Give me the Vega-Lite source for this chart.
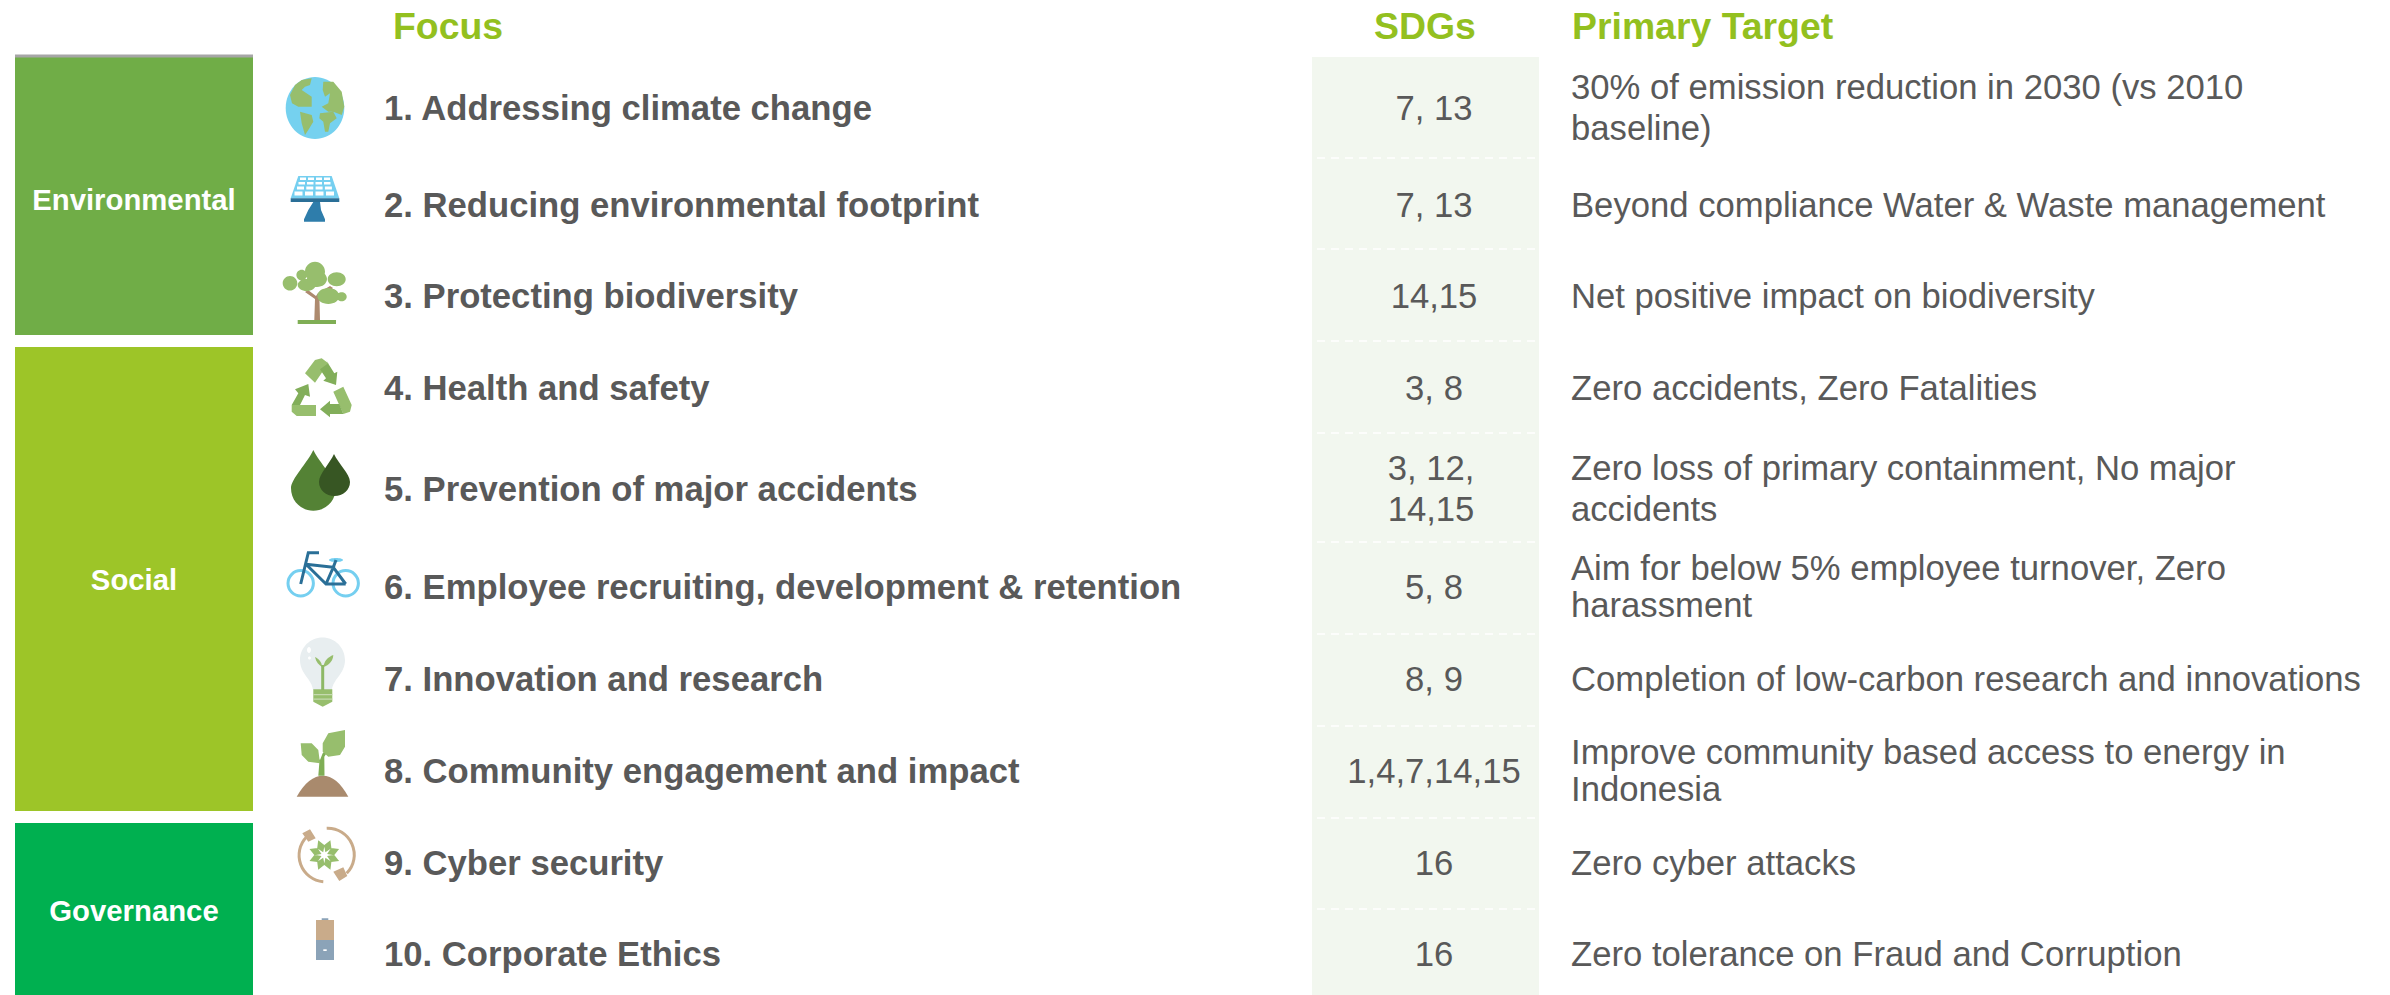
{
"$schema":"https://vega.github.io/schema/vega-lite/v6.json",
"width":2390,"height":995,"padding":0,"autosize":{"type":"none"},"background":"white",
"config":{"view":{"stroke":null},"text":{"font":"Liberation Sans"}},
"data":{"values":[
{"row":1,"focus":"1. Addressing climate change","sdgs":"7, 13","target":"30% of emission reduction in 2030 (vs 2010\nbaseline)"},
{"row":2,"focus":"2. Reducing environmental footprint","sdgs":"7, 13","target":"Beyond compliance Water & Waste management"},
{"row":3,"focus":"3. Protecting biodiversity","sdgs":"14,15","target":"Net positive impact on biodiversity"},
{"row":4,"focus":"4. Health and safety","sdgs":"3, 8","target":"Zero accidents, Zero Fatalities"},
{"row":5,"focus":"5. Prevention of major accidents","sdgs":"3, 12,\n14,15","target":"Zero loss of primary containment, No major\naccidents"},
{"row":6,"focus":"6. Employee recruiting, development & retention","sdgs":"5, 8","target":"Aim for below 5% employee turnover, Zero\nharassment"},
{"row":7,"focus":"7. Innovation and research","sdgs":"8, 9","target":"Completion of low-carbon research and innovations"},
{"row":8,"focus":"8. Community engagement and impact","sdgs":"1,4,7,14,15","target":"Improve community based access to energy in\nIndonesia"},
{"row":9,"focus":"9. Cyber security","sdgs":"16","target":"Zero cyber attacks"},
{"row":10,"focus":"10. Corporate Ethics","sdgs":"16","target":"Zero tolerance on Fraud and Corruption"}
]},
"layer":[
{"data":{"values":[{"band":"SDGs"}]},"mark":{"type":"rect","color":"#F2F7EF"},
 "encoding":{
  "x":{"datum":5,"type":"quantitative","axis":null,"scale":{"domain":[1,2,3,4,5,6,7,8],"range":[15,253,322,383,1312,1434,1539,1571],"nice":false,"zero":false}},
  "x2":{"datum":7},
  "y":{"datum":0.5,"type":"quantitative","axis":null,"scale":{"domain":[0,0.5,1,1.5,2,2.5,3,3.5,4,4.5,5,5.5,6,6.5,7,7.5,8,8.5,9,9.5,10,10.5],"range":[26,57,108,158,205,249,296,341,388,433,489,542,587,634,679,726,771,818,863,909,954,995],"nice":false,"zero":false}},
  "y2":{"datum":10.5}}},
{"data":{"values":[{"category":"Environmental","start":0.5,"end":3.433,"label":1.96},{"category":"Social","start":3.564,"end":8.426,"label":5.93},{"category":"Governance","start":8.556,"end":10.5,"label":9.53}]},
 "layer":[
  {"mark":{"type":"rect"},"encoding":{"x":{"datum":1,"type":"quantitative","axis":null},"x2":{"datum":2},"y":{"field":"start","type":"quantitative","axis":null},"y2":{"field":"end"},
   "fill":{"field":"category","type":"nominal","legend":null,"scale":{"domain":["Environmental","Social","Governance"],"range":["#70AD47","#9DC528","#00B050"]}}}},
  {"mark":{"type":"text","font":"Liberation Sans","fontWeight":"bold","fontSize":29.3,"color":"white","align":"center","baseline":"middle"},
   "encoding":{"x":{"datum":1.5,"type":"quantitative","axis":null},"y":{"field":"label","type":"quantitative","axis":null},"text":{"field":"category","type":"nominal"}}}
 ]},
{"data":{"values":[{"top":0.484}]},"mark":{"type":"rule","color":"#A6A6A6","strokeWidth":3},"encoding":{"x":{"datum":1,"type":"quantitative","axis":null},"x2":{"datum":2},"y":{"field":"top","type":"quantitative","axis":null}}},
{"data":{"values":[{"b":1.5},{"b":2.5},{"b":3.5},{"b":4.5},{"b":5.5},{"b":6.5},{"b":7.5},{"b":8.5},{"b":9.5}]},
 "mark":{"type":"rule","color":"white","strokeWidth":1.5,"strokeDash":[8,6]},
 "encoding":{"x":{"datum":2,"type":"quantitative","axis":null},"x2":{"datum":7},"y":{"field":"b","type":"quantitative","axis":null}}},
{"data":{"values":[{"row":1,"part":"globe"},{"row":1,"part":"land"},{"row":2,"part":"panel"},{"row":2,"part":"cells"},{"row":2,"part":"bar"},{"row":2,"part":"stand"},{"row":3,"part":"trunk"},{"row":3,"part":"leaves"},{"row":3,"part":"ground"},{"row":4,"part":"recycleLight"},{"row":4,"part":"recycleDark"},{"row":5,"part":"dropBig"},{"row":5,"part":"dropSmall"},{"row":6,"part":"wheels"},{"row":6,"part":"frame"},{"row":6,"part":"seat"},{"row":7,"part":"bulb"},{"row":7,"part":"bulbLeaves"},{"row":7,"part":"bulbStem"},{"row":7,"part":"bulbBase"},{"row":7,"part":"ridges"},{"row":7,"part":"dots"},{"row":8,"part":"soil"},{"row":8,"part":"stem"},{"row":8,"part":"sprout"},{"row":9,"part":"ring"},{"row":9,"part":"plugs"},{"row":9,"part":"flower"},{"row":10,"part":"batteryTop"},{"row":10,"part":"batteryBottom"},{"row":10,"part":"minus"}]},
 "encoding":{
  "x":{"datum":3,"type":"quantitative","axis":null},
  "y":{"field":"row","type":"quantitative","axis":null},
  "color":{"field":"part","type":"nominal","legend":null,"scale":{
   "domain":["globe","land","panel","cells","bar","stand","trunk","leaves","ground","recycleLight","recycleDark","dropBig","dropSmall","wheels","frame","seat","bulb","bulbLeaves","bulbStem","bulbBase","ridges","dots","soil","stem","sprout","ring","plugs","flower","batteryTop","batteryBottom","minus"],
   "range":["#75D1EF","#97BE6D","#75CFF0","#FFFFFF","#2A6F97","#2E7DAB","#AD8A6E","#97BE6D","#7FAE55","#97BE6D","#82AE5A","#548235","#375623","#75CFF0","#2A6F97","#75CFF0","#E8EEF0","#97BE6D","#8DB866","#97BE6D","#C5DAAF","#FFFFFF","#A98A6D","#7FAE55","#97BE6D","#C9AB8A","#C9AB8A","#97BE6D","#C9AB8A","#8BA3B8","#FFFFFF"]}},
  "shape":{"field":"part","type":"nominal","legend":null,"scale":{
   "domain":["globe","land","panel","cells","bar","stand","trunk","leaves","ground","recycleLight","recycleDark","dropBig","dropSmall","wheels","frame","seat","bulb","bulbLeaves","bulbStem","bulbBase","ridges","dots","soil","stem","sprout","ring","plugs","flower","batteryTop","batteryBottom","minus"],
   "range":[
   "M-36.3 0A29.3 31 0 1 0 22.3 0A29.3 31 0 1 0 -36.3 0Z",
   "M-20.3 -28L-10.3 -29.7L-12 -23L-17 -21.3L-20.3 -18L-10.3 -11.3L-10.3 -1.3L-17 -1.3L-23.7 -1.3L-30 -4.7L-32 -13L-27 -23ZM-22 3.7L-10.3 7L-8.7 13.7L-13.7 22L-17 27L-20.3 15.3ZM1.3 -26.3L11.3 -26.3L19.7 -16.3L22.3 -1.3L19.7 7L11.3 3.7L6.3 3.7L-0.3 -1.3L6.3 -4.7L8 -14.7L3 -11.3L0.7 -18ZM-2 5.3L11.3 3.7L14.7 10.3L8 15.3L6.3 23.7L3 23.7L1.3 13.7L-2.7 10.3Z",
   "M-23.7 -29L9.7 -29L17.3 -6.7L-31.3 -6.7Z",
   "M-22 -27.5h6v2.5h-6ZM-14 -27.5h6v2.5h-6ZM-6 -27.5h6v2.5h-6ZM2 -27.5h6v2.5h-6ZM-23.5 -23h6.5v2.5h-6.5ZM-15 -23h6.5v2.5h-6.5ZM-6.5 -23h6.5v2.5h-6.5ZM2 -23h6.5v2.5h-6.5ZM-25 -18.5h7v3h-7ZM-15.7 -18.5h7v3h-7ZM-6.4 -18.5h7v3h-7ZM2.9 -18.5h7v3h-7ZM-27.5 -13.5h8v4h-8ZM-17 -13.5h8v4h-8ZM-6.5 -13.5h8v4h-8ZM4 -13.5h8v4h-8Z",
   "M-31.3 -6.7L17.3 -6.7L17.3 -3L-31.3 -3Z",
   "M-8.7 -3L-2 -3L-1 5L3 14.3L3 16.7L-18 16.7L-18 14.3L-13.7 5Z",
   "M-7.7 24L-2 24L-2.5 5L11 -8L8 -10L-4 -3L-6 0L-14 -6L-17 -4L-7 3Z",
   "M-17 -24.3A10 10 0 1 0 3 -24.3A10 10 0 1 0 -17 -24.3ZM-39.3 -12.7A7.3 7.3 0 1 0 -24.7 -12.7A7.3 7.3 0 1 0 -39.3 -12.7ZM-25.6 -21A5.3 5.3 0 1 0 -15 -21A5.3 5.3 0 1 0 -25.6 -21ZM-24.3 -11A9 6 0 1 0 -6.3 -11A9 6 0 1 0 -24.3 -11ZM-15 -17A10 8 0 1 0 5 -17A10 8 0 1 0 -15 -17ZM5.7 -16.7A9 7 0 1 0 23.7 -16.7A9 7 0 1 0 5.7 -16.7ZM-4.7 0A11 8 0 1 0 17.3 0A11 8 0 1 0 -4.7 0ZM14.7 0.7A5 4.5 0 1 0 24.7 0.7A5 4.5 0 1 0 14.7 0.7Z",
   "M-24.3 24H14V28H-24.3Z",
   "M-17 -14.7L-7 -28L-0.3 -29.7L6.3 -24.7L-7 -5.3ZM11.3 3.7L21.3 -1.3L29.7 17L28 23.7L21.3 26ZM-30.3 17L-6 17L-6 28L-25.3 28L-30.3 23.7Z",
   "M4 -28L12.3 -14.7L15.3 -16.3L14 -3L1.3 -7.3L4 -9.7L-2 -18.7L6.3 -24.7ZM21.3 26L8 26L8 29.3L-2 21.3L8 12.7L8 16L17.3 16ZM-30.3 17L-23.7 5.3L-27 1.3L-13.7 -4L-12 8.7L-17 7L-22 17Z",
   "M-8.7 -39C-14 -27 -31 -10 -31 -1C-31 12 -21 21.7 -8.7 21.7C4 21.7 13.7 12 13.7 -1C13.7 -10 -3 -27 -8.7 -39Z",
   "M12 -35C8 -26 -3 -15 -3 -7C-3 1 4 7 12.5 7C21 7 28 1 28 -7C28 -15 16 -26 12 -35Z",
   "M-34 -3.7A12.7 12.7 0 1 0 -8.6 -3.7A12.7 12.7 0 1 0 -34 -3.7ZM11 -3.7A12.7 12.7 0 1 0 36.4 -3.7A12.7 12.7 0 1 0 11 -3.7Z",
   "M-3 -34.3L-13.7 -34.3L-21.3 -3M-16 -22.7L4 -3L23.7 -3M-16 -22.7L11.3 -19.7L4 -3M11.3 -19.7L23.7 -3M11.3 -19.7L14 -27",
   "M7 -27A7 2 0 1 0 21 -27A7 2 0 1 0 7 -27Z",
   "M-22 -19A22.5 22.5 0 0 1 23 -19C23 -5 11 0 10 11L-9 11C-10 0 -22 -5 -22 -19Z",
   "M0 -12C-3 -14 -6 -17 -7 -22C-3 -20 0 -17 0 -12ZM1.5 -12C2 -18 6 -22 11.3 -24C11 -18 7 -14 1.5 -12Z",
   "M0.7 -14L0.7 11",
   "M-8.7 10.3H10.3V22.7L0.7 27.7L-8.7 22.7Z",
   "M-8.7 15H10.3V16.3H-8.7ZM-8.7 19.5H10.3V20.8H-8.7Z",
   "M-15 -29A2 3 0 1 0 -11 -29A2 3 0 1 0 -15 -29ZM-14 -21A1.5 1.5 0 1 0 -11 -21A1.5 1.5 0 1 0 -14 -21Z",
   "M-25.3 25.7C-18 12 -8 4.7 0.7 4.7C10 4.7 19 12 26.3 25.7Z",
   "M-3.7 4.7L2.5 4.7L2.3 -14.3L11 -27.7L0.7 -17.7L-2 -11L-10.3 -18L-2.7 -7.7Z",
   "M0.7 -27.7L6.3 -37.7L23 -41L23 -24.3L18 -16L6.3 -14.3L0.7 -19.3ZM-21.3 -27.7L-10.3 -27.7L-3.7 -21L-2 -7.7L-13.7 -9.3L-20.3 -16Z",
   "M-15.3 -26.3A26.5 26.5 0 0 0 1.3 18.7M4.7 -34.7A26.5 26.5 0 0 1 24.7 10.3",
   "M-19.7 -29.7L-12 -33.7L-6.3 -24.7L-13.7 -21.3ZM11.3 8.7L21.3 4.3L25.3 13L17.3 18Z",
   "M17.1 -1.9L9.1 -0.9L5.1 -6.9L12.1 -8.3ZM8.4 6.8L2 1.8L3.4 -5.2L9.4 -1.2ZM-3.8 6.8L-4.8 -1.2L1.2 -5.2L2.6 1.8ZM-12.5 -1.9L-7.5 -8.3L-0.5 -6.9L-4.5 -0.9ZM-12.5 -14.1L-4.5 -15.1L-0.5 -9.1L-7.5 -7.7ZM-3.8 -22.8L2.6 -17.8L1.2 -10.8L-4.8 -14.8ZM8.4 -22.8L9.4 -14.8L3.4 -10.8L2 -17.8ZM17.1 -14.1L12.1 -7.7L5.1 -9.1L9.1 -15.1Z",
   "M-6 -34H12V-14H-6Z",
   "M-6 -14H12V6H-6ZM-0.3 -35.7H6.3V-34H-0.3Z",
   "M1.3 -4.7H4.7V-3H1.3Z"
   ]}}},
 "layer":[
  {"transform":[{"filter":{"not":{"field":"part","oneOf":["wheels","frame","bulbStem","ring"]}}}],"mark":{"type":"point","filled":true,"size":4,"opacity":1}},
  {"transform":[{"filter":{"field":"part","oneOf":["wheels","frame","bulbStem","ring"]}}],"mark":{"type":"point","filled":false,"size":4,"opacity":1,"strokeWidth":3}}
 ]},
{"mark":{"type":"text","font":"Liberation Sans","fontWeight":"bold","fontSize":34.66,"color":"#595959","align":"left","baseline":"middle","dy":1.5,"dx":1},
 "encoding":{"x":{"datum":4,"type":"quantitative","axis":null},"y":{"field":"row","type":"quantitative","axis":null},"text":{"field":"focus","type":"nominal"}}},
{"transform":[{"filter":{"not":{"field":"row","oneOf":[5]}}}],"mark":{"type":"text","font":"Liberation Sans","fontSize":34.66,"color":"#595959","align":"center","baseline":"middle","dy":1.5},
 "encoding":{"x":{"datum":6,"type":"quantitative","axis":null},"y":{"field":"row","type":"quantitative","axis":null},"text":{"field":"sdgs","type":"nominal"}}},
{"transform":[{"filter":{"field":"row","oneOf":[5]}}],"mark":{"type":"text","font":"Liberation Sans","fontSize":34.66,"color":"#595959","align":"center","baseline":"middle","lineBreak":"\n","lineHeight":41,"dy":-19,"dx":-3},
 "encoding":{"x":{"datum":6,"type":"quantitative","axis":null},"y":{"field":"row","type":"quantitative","axis":null},"text":{"field":"sdgs","type":"nominal"}}},
{"transform":[{"filter":{"not":{"field":"row","oneOf":[1,5,6,8]}}}],"mark":{"type":"text","font":"Liberation Sans","fontSize":34.66,"color":"#595959","align":"left","baseline":"middle","dy":1.5},
 "encoding":{"x":{"datum":8,"type":"quantitative","axis":null},"y":{"field":"row","type":"quantitative","axis":null},"text":{"field":"target","type":"nominal"}}},
{"transform":[{"filter":{"field":"row","oneOf":[1,5]}}],"mark":{"type":"text","font":"Liberation Sans","fontSize":34.66,"color":"#595959","align":"left","baseline":"middle","lineBreak":"\n","lineHeight":41,"dy":-19},
 "encoding":{"x":{"datum":8,"type":"quantitative","axis":null},"y":{"field":"row","type":"quantitative","axis":null},"text":{"field":"target","type":"nominal"}}},
{"transform":[{"filter":{"field":"row","oneOf":[6,8]}}],"mark":{"type":"text","font":"Liberation Sans","fontSize":34.66,"color":"#595959","align":"left","baseline":"middle","lineBreak":"\n","lineHeight":37,"dy":-17},
 "encoding":{"x":{"datum":8,"type":"quantitative","axis":null},"y":{"field":"row","type":"quantitative","axis":null},"text":{"field":"target","type":"nominal"}}},
{"data":{"values":[{"header":"Focus"}]},"mark":{"type":"text","font":"Liberation Sans","fontWeight":"bold","fontSize":37.4,"color":"#93C01F","align":"left","baseline":"middle","dx":10,"dy":1.5},
 "encoding":{"x":{"datum":4,"type":"quantitative","axis":null},"y":{"datum":0,"type":"quantitative","axis":null},"text":{"field":"header","type":"nominal"}}},
{"data":{"values":[{"header":"SDGs"}]},"mark":{"type":"text","font":"Liberation Sans","fontWeight":"bold","fontSize":37.4,"color":"#93C01F","align":"center","baseline":"middle","dx":-9,"dy":1.5},
 "encoding":{"x":{"datum":6,"type":"quantitative","axis":null},"y":{"datum":0,"type":"quantitative","axis":null},"text":{"field":"header","type":"nominal"}}},
{"data":{"values":[{"header":"Primary Target"}]},"mark":{"type":"text","font":"Liberation Sans","fontWeight":"bold","fontSize":37.4,"color":"#93C01F","align":"left","baseline":"middle","dx":1,"dy":1.5},
 "encoding":{"x":{"datum":8,"type":"quantitative","axis":null},"y":{"datum":0,"type":"quantitative","axis":null},"text":{"field":"header","type":"nominal"}}}
]
}
